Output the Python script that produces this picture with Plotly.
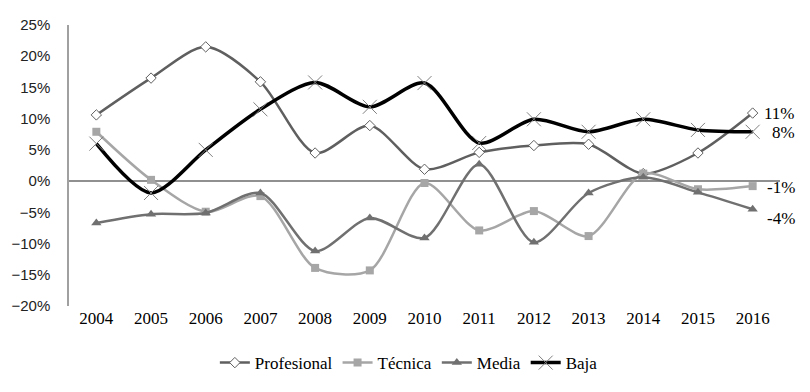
import plotly.graph_objects as go

years = ["2004","2005","2006","2007","2008","2009","2010","2011","2012","2013","2014","2015","2016"]
profesional = [0.106, 0.165, 0.215, 0.159, 0.045, 0.089, 0.019, 0.046, 0.057, 0.059, 0.012, 0.045, 0.109]
tecnica = [0.079, 0.002, -0.049, -0.024, -0.139, -0.143, -0.003, -0.079, -0.048, -0.088, 0.012, -0.013, -0.008]
media = [-0.067, -0.053, -0.051, -0.019, -0.112, -0.059, -0.091, 0.027, -0.098, -0.019, 0.006, -0.018, -0.045]
baja = [0.060, -0.019, 0.050, 0.115, 0.158, 0.119, 0.157, 0.061, 0.099, 0.079, 0.099, 0.082, 0.079]
end_labels = ["11%", "-1%", "-4%", "8%"]
yticks = [-0.20, -0.15, -0.10, -0.05, 0.0, 0.05, 0.10, 0.15, 0.20, 0.25]

serif = "Liberation Serif, Times New Roman, serif"
sans = "Liberation Sans, Arial, sans-serif"

fig = go.Figure()
fig.add_trace(go.Scatter(x=years, y=profesional, name="Profesional", mode="lines+markers",
    line=dict(color="#5f5f5f", width=2.5, shape="spline", smoothing=0.8),
    marker=dict(symbol="diamond", size=8, color="white", line=dict(color="#5f5f5f", width=1))))
fig.add_trace(go.Scatter(x=years, y=tecnica, name="Técnica", mode="lines+markers",
    line=dict(color="#a6a6a6", width=2.5, shape="spline", smoothing=0.8),
    marker=dict(symbol="square", size=8, color="#a6a6a6")))
fig.add_trace(go.Scatter(x=years, y=media, name="Media", mode="lines+markers",
    line=dict(color="#707070", width=2.5, shape="spline", smoothing=0.8),
    marker=dict(symbol="triangle-up", size=9, color="#707070")))
fig.add_trace(go.Scatter(x=years, y=baja, name="Baja", mode="lines+markers",
    line=dict(color="#000000", width=3.5, shape="spline", smoothing=0.8),
    marker=dict(symbol="x-thin", size=14, color="#808080", line=dict(color="#808080", width=1))))

ends = [profesional[-1], tecnica[-1], media[-1], baja[-1]]
yshifts = [0, -1, -9, -1]
last = len(years) - 1
for lab, v, ys in zip(end_labels, ends, yshifts):
    fig.add_annotation(x=last, y=v, xref="x", yref="y", text=lab, showarrow=False,
                       xanchor="right", yanchor="middle", xshift=44, yshift=ys,
                       font=dict(family=serif, size=17, color="#000"))

fig.update_layout(
    width=802, height=384, plot_bgcolor="white", paper_bgcolor="white",
    margin=dict(l=61, r=30, t=17, b=85),
    showlegend=True,
    legend=dict(orientation="h", x=0.478, xanchor="center", y=-0.135, yanchor="top",
                font=dict(family=serif, size=17, color="#000"), itemwidth=30,
                tracegroupgap=0),
    xaxis=dict(type="category", range=[-0.5, 12.5], showline=False, showgrid=False,
               zeroline=False, ticks="", automargin=False,
               tickfont=dict(family=serif, size=17, color="#000")),
    yaxis=dict(range=[-0.20, 0.25], tickvals=yticks, tickformat=".0%", showgrid=False,
               showline=True, linecolor="#a0a0a0", linewidth=1.5, automargin=False,
               zeroline=True, zerolinecolor="#909090", zerolinewidth=1.5,
               ticks="", ticklabelstandoff=14, tickfont=dict(family=sans, size=15, color="#222")),
)
fig.write_html("out.html")
